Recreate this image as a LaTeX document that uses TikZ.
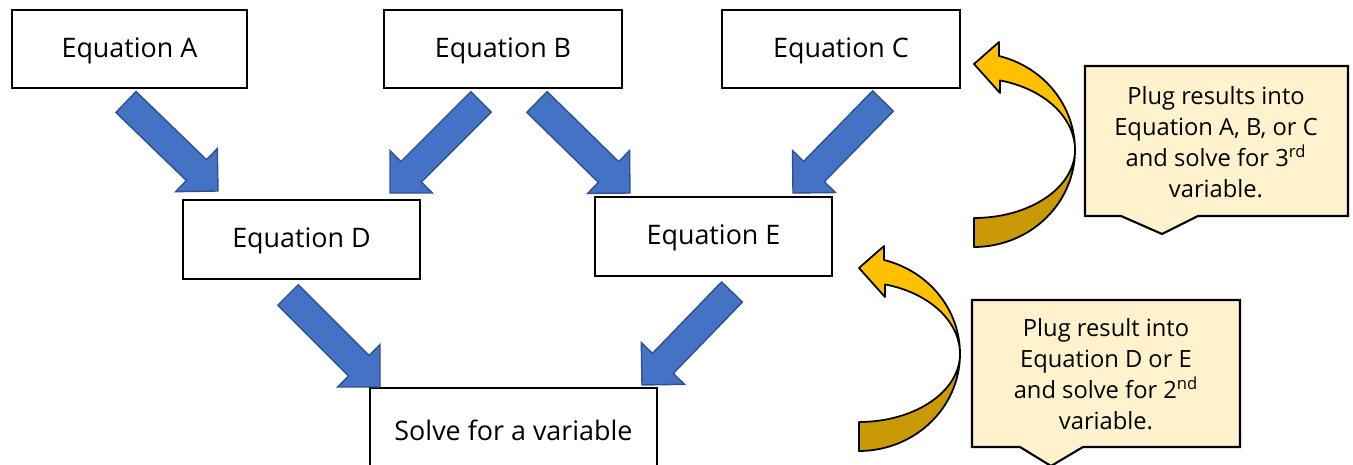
\documentclass[tikz,border=0pt]{standalone}
\usepackage{fontspec}
\setmainfont{Open Sans}
\usetikzlibrary{calc}
\definecolor{bluefill}{HTML}{4472C4}
\definecolor{blueline}{HTML}{2F528F}
\definecolor{cyellow}{HTML}{FFC000}
\definecolor{cdark}{HTML}{C99A06}
\definecolor{callfill}{HTML}{FFF2CC}
\tikzset{
  eqbox/.style={draw=black, line width=1.2pt, fill=white, minimum width=235*0.02cm, minimum height=78*0.02cm, inner sep=0pt, text height=0.95em, text depth=0pt, font=\fontsize{15.3}{18}\selectfont},
  blockstyle/.style={fill=bluefill, draw=blueline, line width=0.8pt, line join=miter},
  callout/.style={draw=black, line width=1.2pt, fill=callfill},
  calltext/.style={align=center, font=\fontsize{13.5}{17.6}\selectfont, inner sep=0pt},
  curvedarrow/.pic={
    \filldraw[fill=cdark, draw=black, line width=1pt, line join=round]
      (101,0) -- plot[domain=0:-90, variable=\t, samples=40, smooth] ({101*cos(\t)},{-68*sin(\t)})
      -- (0,97) -- plot[domain=-90:0, variable=\t, samples=40, smooth] ({101*cos(\t)},{-97*sin(\t)}) -- cycle;
    \filldraw[fill=cyellow, draw=black, line width=1pt, line join=round]
      (0,-86) -- (25,-108) -- (25,-94)
      -- plot[domain=75.7:0, variable=\t, samples=40, smooth] ({101*cos(\t)},{-97*sin(\t)})
      -- plot[domain=0:75.1, variable=\t, samples=40, smooth] ({101*cos(\t)},{-72*sin(\t)})
      -- (26,-57) -- cycle;
  }
}
\newcommand\blockarrow[2]{%
  \coordinate (#1-h) at ($(#2)!0.6cm!(#1)$);
  \draw[blockstyle] ($(#1)!0.29cm!90:(#2)$) -- ($(#1-h)!0.29cm!90:(#2)$) -- ($(#1-h)!0.6cm!90:(#2)$)
    -- (#2) -- ($(#1-h)!0.6cm!-90:(#2)$) -- ($(#1-h)!0.29cm!-90:(#2)$) -- ($(#1)!0.29cm!-90:(#2)$) -- cycle;
}
\begin{document}
\begin{tikzpicture}[x=0.02cm, y=-0.02cm]
\useasboundingbox (0,0) rectangle (1353,465);
\clip (0,0) rectangle (1353,465);
\fill[white] (0,0) rectangle (1353,465);

% boxes
\node[eqbox] (eqA) at (129.5,49) {Equation A};
\node[eqbox, minimum width=238*0.02cm] (eqB) at (503,49) {Equation B};
\node[eqbox, minimum width=238*0.02cm] (eqC) at (841,49) {Equation C};
\node[eqbox, minimum width=237*0.02cm, minimum height=79*0.02cm] (eqD) at (301.5,239.5) {Equation D};
\node[eqbox, minimum width=237*0.02cm, minimum height=79*0.02cm] (eqE) at (713.5,236.5) {Equation E};
\node[eqbox, minimum width=287*0.02cm, minimum height=88*0.02cm] (solve) at (513.5,432) {Solve for a variable};

% block arrows
\coordinate (a1) at (126,102);  \coordinate (a1e) at (218,191);
\coordinate (a2) at (481,102);  \coordinate (a2e) at (390,193);
\coordinate (a3) at (537,102);  \coordinate (a3e) at (630,193);
\coordinate (a4) at (883,101);  \coordinate (a4e) at (793,193);
\coordinate (a5) at (288,295);  \coordinate (a5e) at (380,387);
\coordinate (a6) at (732,292);  \coordinate (a6e) at (642,385);
\blockarrow{a1}{a1e}
\blockarrow{a2}{a2e}
\blockarrow{a3}{a3e}
\blockarrow{a4}{a4e}
\blockarrow{a5}{a5e}
\blockarrow{a6}{a6e}

% curved arrows
\pic at (974,150) {curvedarrow};
\pic at (859,354) {curvedarrow};

% callouts
\draw[callout] (1085,66) -- (1348,66) -- (1348,216) -- (1198,216) -- (1162,234) -- (1121,216) -- (1085,216) -- cycle;
\node[calltext] (note1) at (1216,142) {Plug results into\\Equation A, B, or C\\and solve for 3\textsuperscript{rd}\\variable.};
\draw[callout] (972,300) -- (1240,300) -- (1240,447) -- (1083,447) -- (1051,466) -- (1020,447) -- (972,447) -- cycle;
\node[calltext] (note2) at (1106,374) {Plug result into\\Equation D or E\\and solve for 2\textsuperscript{nd}\\variable.};
\end{tikzpicture}
\end{document}
